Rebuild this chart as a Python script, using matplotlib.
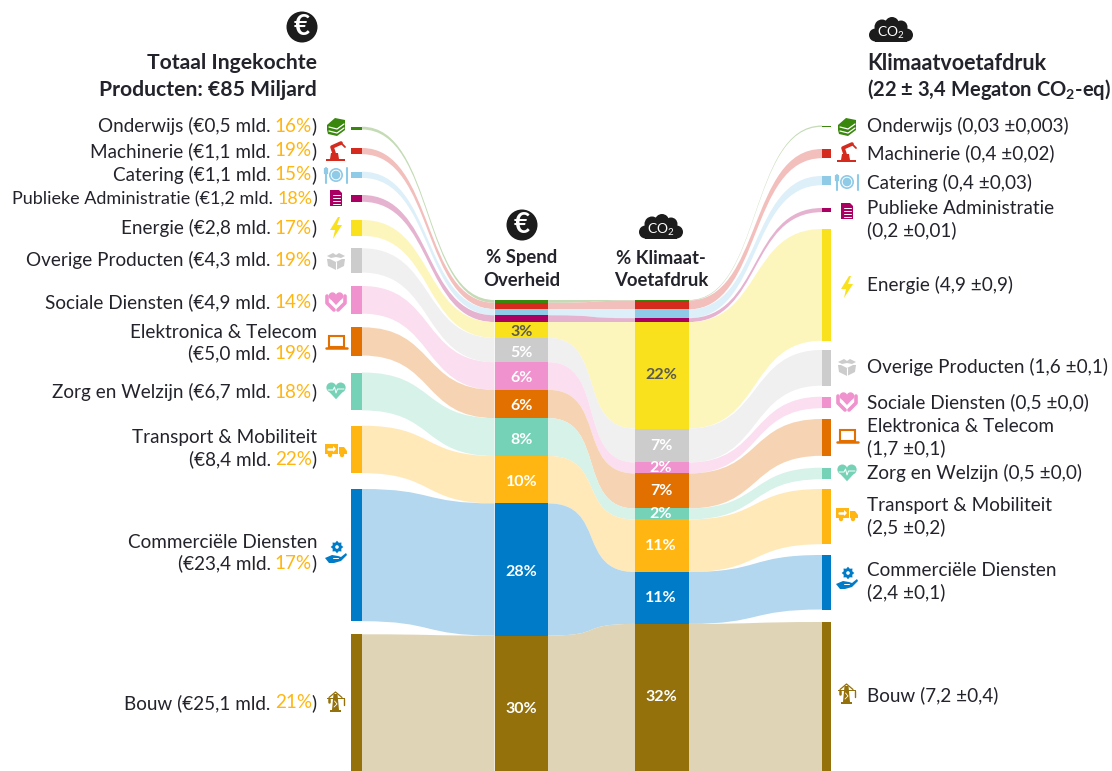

# -*- coding: utf-8 -*-
import numpy as np
import matplotlib
matplotlib.use('Agg')
import matplotlib.pyplot as plt
from matplotlib.patches import Circle, PathPatch, Polygon, Rectangle
from matplotlib.path import Path
from matplotlib.colors import to_rgb

plt.rcParams['font.family'] = ['Lato', 'DejaVu Sans']
plt.rcParams['mathtext.default'] = 'regular'

##### DATA #####
names = ['Onderwijs', 'Machinerie', 'Catering', 'Publieke Administratie', 'Energie',
         'Overige Producten', 'Sociale Diensten', 'Elektronica & Telecom',
         'Zorg en Welzijn', 'Transport & Mobiliteit', 'Commerciële Diensten', 'Bouw']
spend_mld = [0.5, 1.1, 1.1, 1.2, 2.8, 4.3, 4.9, 5.0, 6.7, 8.4, 23.4, 25.1]
spend_labels = ['16%', '19%', '15%', '18%', '17%', '19%', '14%', '19%', '18%', '22%', '17%', '21%']
co2_text = ['0,03 ±0,003', '0,4 ±0,02', '0,4 ±0,03', '0,2 ±0,01', '4,9 ±0,9', '1,6 ±0,1',
            '0,5 ±0,0', '1,7 ±0,1', '0,5 ±0,0', '2,5 ±0,2', '2,4 ±0,1', '7,2 ±0,4']
co2_mt = [0.03, 0.40, 0.40, 0.18, 4.86, 1.55, 0.50, 1.60, 0.50, 2.40, 2.37, 7.20]
spend_pct = ['', '', '', '', '3%', '5%', '6%', '6%', '8%', '10%', '28%', '30%']
co2_pct = ['', '', '', '', '22%', '7%', '2%', '7%', '2%', '11%', '11%', '32%']
colors = ['#39870C', '#D52B1E', '#8FCAE7', '#A90061', '#F9E11E', '#CCCCCC',
          '#F092CD', '#E17000', '#76D2B6', '#FFB612', '#007BC7', '#94710A']
TEXT = '#23232B'
ORANGE = '#FFB612'

##### LAYOUT (pixels) #####
W, H = 1112, 771
SPEND_SCALE = 5.65
CO2_SCALE_MID = 21.9
CO2_SCALE_RIGHT = 23.0
MID_TOP = 300
left_tops = [126.7, 148, 171.7, 195, 220, 248.3, 286, 327.3, 372.5, 425.7, 489, 634.3]
right_tops = [125.5, 149, 176, 208, 229, 350, 396.7, 419, 467.7, 489, 555, 622]
COL_LEFT = (351, 362)
COL_SPEND = (494.5, 548)
COL_CO2 = (635, 688.5)
COL_RIGHT = (822, 831)
left_label_y = [126, 151, 175, 199, 228, 260, 302, 332, 392, 438, 542, 703]
right_label_y = [126, 153, 183, 209, 285, 367, 402, 427, 473, 506, 571, 695]
LINE_STEP = 21.5
left_two_lines = [7, 9, 10]
right_two_lines = [3, 7, 9, 10]
left_icon_y = [127, 151, 175, 198, 228, 261, 301, 342, 390, 450, 553, 702]
right_icon_y = [127, 152, 182, 211, 287, 367, 401, 436, 472, 514, 579, 694]
LABEL_SIZE = 13.6
TITLE_SIZE = 15.2

fig = plt.figure(figsize=(W / 100, H / 100), dpi=100)
ax = fig.add_axes([0, 0, 1, 1])
ax.set_xlim(0, W)
ax.set_ylim(H, 0)
ax.axis('off')


def light(c, a=0.3):
    return tuple(1 - a * (1 - v) for v in to_rgb(c))


def stack(values, scale, top):
    heights = np.array(values) * scale
    return top + np.concatenate([[0], np.cumsum(heights)[:-1]]), heights


def flow(x0, x1, t0, h0, t1, h1, c, k=0.5):
    a = x0 + (x1 - x0) * k
    b = x1 - (x1 - x0) * k
    verts = [(x0, t0), (a, t0), (b, t1), (x1, t1),
             (x1, t1 + h1), (b, t1 + h1), (a, t0 + h0), (x0, t0 + h0), (x0, t0)]
    codes = [Path.MOVETO, Path.CURVE4, Path.CURVE4, Path.CURVE4,
             Path.LINETO, Path.CURVE4, Path.CURVE4, Path.CURVE4, Path.CLOSEPOLY]
    ax.add_patch(PathPatch(Path(verts, codes), fc=c, ec='none', lw=0, zorder=1))


##### FLOWS AND COLUMNS #####
spend_heights = np.array(spend_mld) * SPEND_SCALE
# the 0,03 Mt sliver would vanish at this scale, the picture keeps it as a hairline
co2_right_heights = np.maximum(np.array(co2_mt) * CO2_SCALE_RIGHT, 1.3)
spend_tops, _ = stack(spend_mld, SPEND_SCALE, MID_TOP)
co2_tops, co2_heights = stack(co2_mt, CO2_SCALE_MID, MID_TOP)

for i, c in enumerate(colors):
    band = light(c)
    flow(COL_LEFT[1], COL_SPEND[0], left_tops[i], spend_heights[i], spend_tops[i], spend_heights[i], band, 0.55)
    flow(COL_SPEND[1], COL_CO2[0], spend_tops[i], spend_heights[i], co2_tops[i], co2_heights[i], band, 0.68)
    flow(COL_CO2[1], COL_RIGHT[0], co2_tops[i], co2_heights[i], right_tops[i], co2_right_heights[i], band, 0.55)

for col, tops, heights in [(COL_LEFT, left_tops, spend_heights), (COL_SPEND, spend_tops, spend_heights),
                           (COL_CO2, co2_tops, co2_heights), (COL_RIGHT, right_tops, co2_right_heights)]:
    ax.bar((col[0] + col[1]) / 2, heights, width=col[1] - col[0], bottom=tops, color=colors, lw=0, zorder=2)

for i, s in enumerate(spend_pct):
    if s != '':
        ax.text(521.5, spend_tops[i] + spend_heights[i] / 2 + 2.5, s, ha='center', va='center', fontsize=11.5,
                fontweight='bold', color='#5A5A50' if s == '3%' else 'white', zorder=3)
for i, s in enumerate(co2_pct):
    if s != '':
        y = (co2_tops[i] + min(co2_tops[i] + co2_heights[i], H)) / 2
        ax.text(661, y, s, ha='center', va='center', fontsize=11.5,
                fontweight='bold', color='#5A5A50' if s == '22%' else 'white', zorder=3)

##### TEXT #####
renderer = fig.canvas.get_renderer()


def right_aligned(x, y, s, color=TEXT, size=LABEL_SIZE):
    t = ax.text(x, y, s, ha='right', va='center', fontsize=size, color=color)
    return t.get_window_extent(renderer).x0


for i, name in enumerate(names):
    y = left_label_y[i]
    # the longest label is squeezed a bit in the reference
    size = 13 if name == 'Publieke Administratie' else LABEL_SIZE
    amount = '(€' + str(spend_mld[i]).replace('.', ',') + ' mld.'
    if i in left_two_lines:
        right_aligned(317, y, name)
        y += LINE_STEP
        start = amount
    else:
        start = name + ' ' + amount
    x = right_aligned(317, y, ')', size=size)
    x = right_aligned(x, y, spend_labels[i], ORANGE, size)
    right_aligned(x - 4, y, start, size=size)

    y = right_label_y[i]
    if i in right_two_lines:
        ax.text(867, y, name, va='center', fontsize=LABEL_SIZE, color=TEXT)
        ax.text(867, y + LINE_STEP, '(' + co2_text[i] + ')', va='center', fontsize=LABEL_SIZE, color=TEXT)
    else:
        ax.text(867, y, name + ' (' + co2_text[i] + ')', va='center', fontsize=LABEL_SIZE, color=TEXT)

ax.text(317, 63, 'Totaal Ingekochte', ha='right', va='center', fontsize=TITLE_SIZE, fontweight='bold', color=TEXT)
ax.text(317, 90, 'Producten: €85 Miljard', ha='right', va='center', fontsize=TITLE_SIZE, fontweight='bold', color=TEXT)
ax.text(867, 63, 'Klimaatvoetafdruk', va='center', fontsize=15.5, fontweight='bold', color=TEXT)
ax.text(867, 89, '(22 ± 3,4 Megaton CO$_{2}$-eq)', va='center', fontsize=14.5, fontweight='bold', color=TEXT)
for cx, a, b in [(522, '% Spend', 'Overheid'), (661, '% Klimaat-', 'Voetafdruk')]:
    ax.text(cx, 258, a, ha='center', va='center', fontsize=13.3, fontweight='bold', color=TEXT)
    ax.text(cx, 280, b, ha='center', va='center', fontsize=13.3, fontweight='bold', color=TEXT)


##### ICONS #####
def poly(cx, cy, pts, c, z=4):
    ax.add_patch(Polygon([(cx + p[0], cy + p[1]) for p in pts], closed=True, fc=c, ec='none', zorder=z))


def line(cx, cy, pts, c, lw=1.5, z=4):
    ax.plot([cx + p[0] for p in pts], [cy + p[1] for p in pts], color=c, lw=lw, zorder=z,
            solid_capstyle='round', solid_joinstyle='round')


def circle(cx, cy, r, c, z=4):
    ax.add_patch(Circle((cx, cy), r, fc=c, ec='none', zorder=z))


def books(x, y, c):
    poly(x, y, [(-9, -2), (-1, -9), (9, -7), (9, 3), (1, 9), (-8, 7), (-9, 3)], c)
    line(x, y, [(-7, 0), (1, 2), (8, -3)], 'white', 0.9, 5)
    line(x, y, [(-7, 4), (1, 6), (8, 1)], 'white', 0.9, 5)


def robot(x, y, c):
    poly(x, y, [(-10, 8), (9, 8), (9, 10), (-10, 10)], c)
    poly(x, y, [(-5, 2), (2, 2), (3, 8), (-6, 8)], c)
    line(x, y, [(-2, 2), (-4, -4), (5, -8)], c, 2.6)
    line(x, y, [(5, -8), (9, -4)], c, 1.3)


def plate(x, y, c):
    circle(x, y, 7, c)
    circle(x, y, 5.3, 'white', 5)
    circle(x, y, 4.3, c, 6)
    line(x, y, [(-10.5, -7), (-10.5, 8)], c, 1.5)
    line(x, y, [(10.5, -7), (10.5, 8)], c, 1.5)
    line(x, y, [(-12, -7), (-12, -2), (-9, -2), (-9, -7)], c, 0.9)


def doc(x, y, c):
    poly(x, y, [(-6, -8), (3, -8), (6, -5), (6, 8), (-6, 8)], c)
    for d in [-3, 0, 3, 5.5]:
        line(x, y, [(-3.5, d), (3.5, d)], 'white', 0.7, 5)


def bolt(x, y, c):
    poly(x, y, [(2, -11), (-6, 2), (-1, 2), (-3, 11), (6, -3), (1, -3), (4, -11)], c)


def box(x, y, c):
    poly(x, y, [(-9, -5), (-3, -8), (0, -6), (3, -8), (9, -5), (5, -3), (0, -4), (-5, -3)], c)
    poly(x, y, [(-9, -2), (-6, -2), (0, 1), (6, -2), (9, -2), (8, 5), (0, 9), (-8, 5)], c)
    line(x, y, [(0, 1), (0, 9)], 'white', 0.8, 5)


def heart(x, y, c, s=1.0):
    circle(x - 3.7 * s, y - 2 * s, 4 * s, c)
    circle(x + 3.7 * s, y - 2 * s, 4 * s, c)
    poly(x, y, [(-7.4 * s, -0.6 * s), (7.4 * s, -0.6 * s), (0, 7.4 * s)], c)


def hands(x, y, c):
    heart(x, y - 3, c, 0.95)
    line(x, y, [(-9, -5), (-9, 2), (-2, 9)], c, 2.6)
    line(x, y, [(9, -5), (9, 2), (2, 9)], c, 2.6)


def laptop(x, y, c):
    ax.add_patch(Rectangle((x - 7.5, y - 6), 15, 10.5, fc='none', ec=c, lw=1.5, zorder=4))
    line(x, y, [(-10.5, 6), (10.5, 6)], c, 1.8)


def pulse(x, y, c):
    heart(x, y, c, 1.25)
    line(x, y, [(-8, 0), (-3, 0), (-1.5, -3), (0, 3), (1.5, -1), (8, -1)], 'white', 0.7, 5)


def truck(x, y, c):
    poly(x, y, [(-11, -6), (2, -6), (2, 4), (-11, 4)], c)
    poly(x, y, [(3, -3), (8, -3), (11, 1), (11, 4), (3, 4)], c)
    circle(x - 6, y + 5, 2.2, c)
    circle(x + 6, y + 5, 2.2, c)
    line(x, y, [(-8, -1), (-3, -1)], 'white', 1.8, 5)
    poly(x, y, [(-3, -4), (0, -1), (-3, 2)], 'white', 5)


def gearhand(x, y, c):
    angles = np.arange(16) * np.pi / 8
    radii = np.where(np.arange(16) % 2 == 0, 6.3, 4.6)
    poly(x + 1, y - 6, list(zip(radii * np.cos(angles), radii * np.sin(angles))), c)
    circle(x + 1, y - 6, 1.8, 'white', 5)
    poly(x, y, [(-11, 5), (-4, 2), (2, 3), (5, 4), (10, 0), (11, 2), (5, 8), (-2, 10), (-7, 10)], c)
    line(x, y, [(-3, 5), (2, 5)], 'white', 0.7, 5)


def crane(x, y, c):
    poly(x, y, [(-2.5, -8), (1.5, -8), (3, 8), (-4, 8)], c)
    poly(x, y, [(-9, -4.5), (9, -4.5), (9, -2.8), (-9, -2.8)], c)
    line(x, y, [(-7, -4.5), (-0.5, -10), (6, -4.5)], c, 0.9)
    poly(x, y, [(-6, 8), (5, 8), (5, 10), (-6, 10)], c)
    line(x, y, [(7.5, -3), (7.5, 3)], c, 1.0)
    line(x, y, [(-7.5, -3), (-7.5, 0)], c, 1.8)
    line(x, y, [(-1.5, -1), (1, 2), (-2, 5)], 'white', 0.6, 5)


icons = [books, robot, plate, doc, bolt, box, hands, laptop, pulse, truck, gearhand, crane]
for i, icon in enumerate(icons):
    icon(336, left_icon_y[i], colors[i])
    icon(847, right_icon_y[i], colors[i])


def euro(x, y):
    circle(x, y, 15.5, '#1C1C1C')
    ax.text(x, y, '€', ha='center', va='center', fontsize=20, fontweight='bold', color='white', zorder=5)


def cloud(x, y):
    c = '#1C1C1C'
    ax.add_patch(Rectangle((x - 16, y - 2), 32, 13.5, fc=c, ec='none', zorder=4))
    circle(x - 15.5, y + 5, 6.5, c)
    circle(x + 15.5, y + 5, 6.5, c)
    circle(x - 9, y - 3, 7.5, c)
    circle(x + 1, y - 6, 7, c)
    circle(x + 10, y - 3, 6.5, c)
    ax.text(x, y + 3, 'CO$_{2}$', ha='center', va='center', fontsize=10, color='white', zorder=5)


euro(302, 27)
euro(522, 225)
cloud(891, 30)
cloud(661, 227)

fig.savefig('out.png', dpi=100)
